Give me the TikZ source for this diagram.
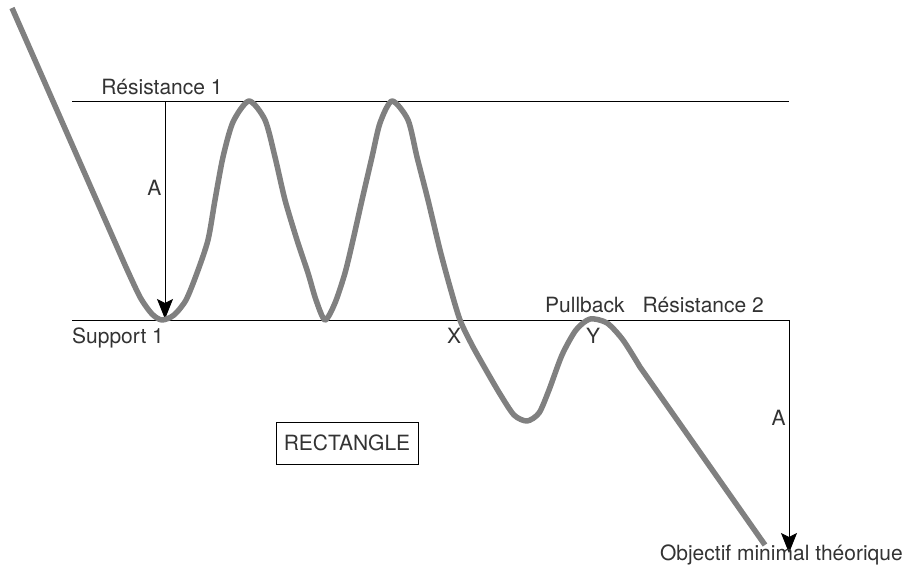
\documentclass[tikz,border=0pt]{standalone}
\usepackage{fontspec}
\setmainfont{TeX Gyre Heros}
\usepackage{xcolor}
\usetikzlibrary{positioning,arrows.meta}
\definecolor{cours}{HTML}{808080}
\definecolor{texte}{HTML}{333333}

\begin{document}
\begin{tikzpicture}[x=1pt,y=1pt,
                    niveau/.style={draw=black,line width=0.9pt},
                    mesure/.style={draw=black,line width=1pt,->},
                    etiq/.style={font=\fontsize{21}{25}\selectfont,text=texte,inner sep=0pt},
                    courbe/.style={draw=cours,line width=5.5pt,line join=round},
                    >={Stealth[length=20pt,width=16pt,inset=4pt]}]
  \useasboundingbox (0,0) rectangle (908,-568);
  % niveaux
  \coordinate (r1w) at (72,-101);  \coordinate (r1e) at (789,-101);
  \coordinate (s1w) at (72,-320);  \coordinate (s1e) at (789,-320);
  \coordinate (a1h) at (165,-101); \coordinate (a1b) at (165,-319);
  \coordinate (obj) at (789,-553);
  \draw[niveau] (r1w) -- (r1e);
  \draw[niveau] (s1w) -- (s1e);
  \draw[mesure] (a1h) -- node[etiq,left=3pt,pos=0.4] (a1) {A} (a1b);
  \draw[mesure] (s1e) -- node[etiq,left=3pt,pos=0.42] (a2) {A} (obj);
  % cours
  \draw[courbe] (12,-8) -- plot[smooth,tension=0.45] coordinates {
      (125,-265) (140,-297) (152,-314) (162,-320) (174,-315) (186,-300)
      (197,-273) (208,-240) (215,-200) (223,-157) (233,-122) (249,-101)
      (265,-120) (275,-157) (285,-200) (297,-240) (308,-273) (316,-300)
      (325,-320) (335,-303) (345,-273) (353,-240) (362,-200) (372,-157)
      (380,-123) (392,-101) (408,-120) (417,-157) (428,-200) (440,-250)
      (450,-287) (460,-320) (472,-345) (486,-370) (500,-394) (514,-415)
      (527,-421) (539,-413) (549,-390) (562,-355) (576,-330) (590,-319)
      (607,-323) (623,-340) (640,-367)} -- (765,-545);
  % textes
  \node[etiq,anchor=base] (res1) at (162,-94) {Résistance 1};
  \node[etiq,anchor=base west] (sup1) at (72,-343) {Support 1};
  \node[etiq,anchor=base] (x) at (454,-343) {X};
  \node[etiq,anchor=base] (y) at (593,-343) {Y};
  \node[etiq,anchor=base west] (pb) at (545,-312) {Pullback};
  \node[etiq,anchor=base east] (res2) at (764,-312) {Résistance 2};
  \node[etiq,anchor=base east] (objt) at (903,-560) {Objectif minimal théorique};
  \node[etiq,draw=black,line width=0.8pt,minimum width=142pt,minimum height=42pt] (rect) at (347,-443) {RECTANGLE};
\end{tikzpicture}
\end{document}
